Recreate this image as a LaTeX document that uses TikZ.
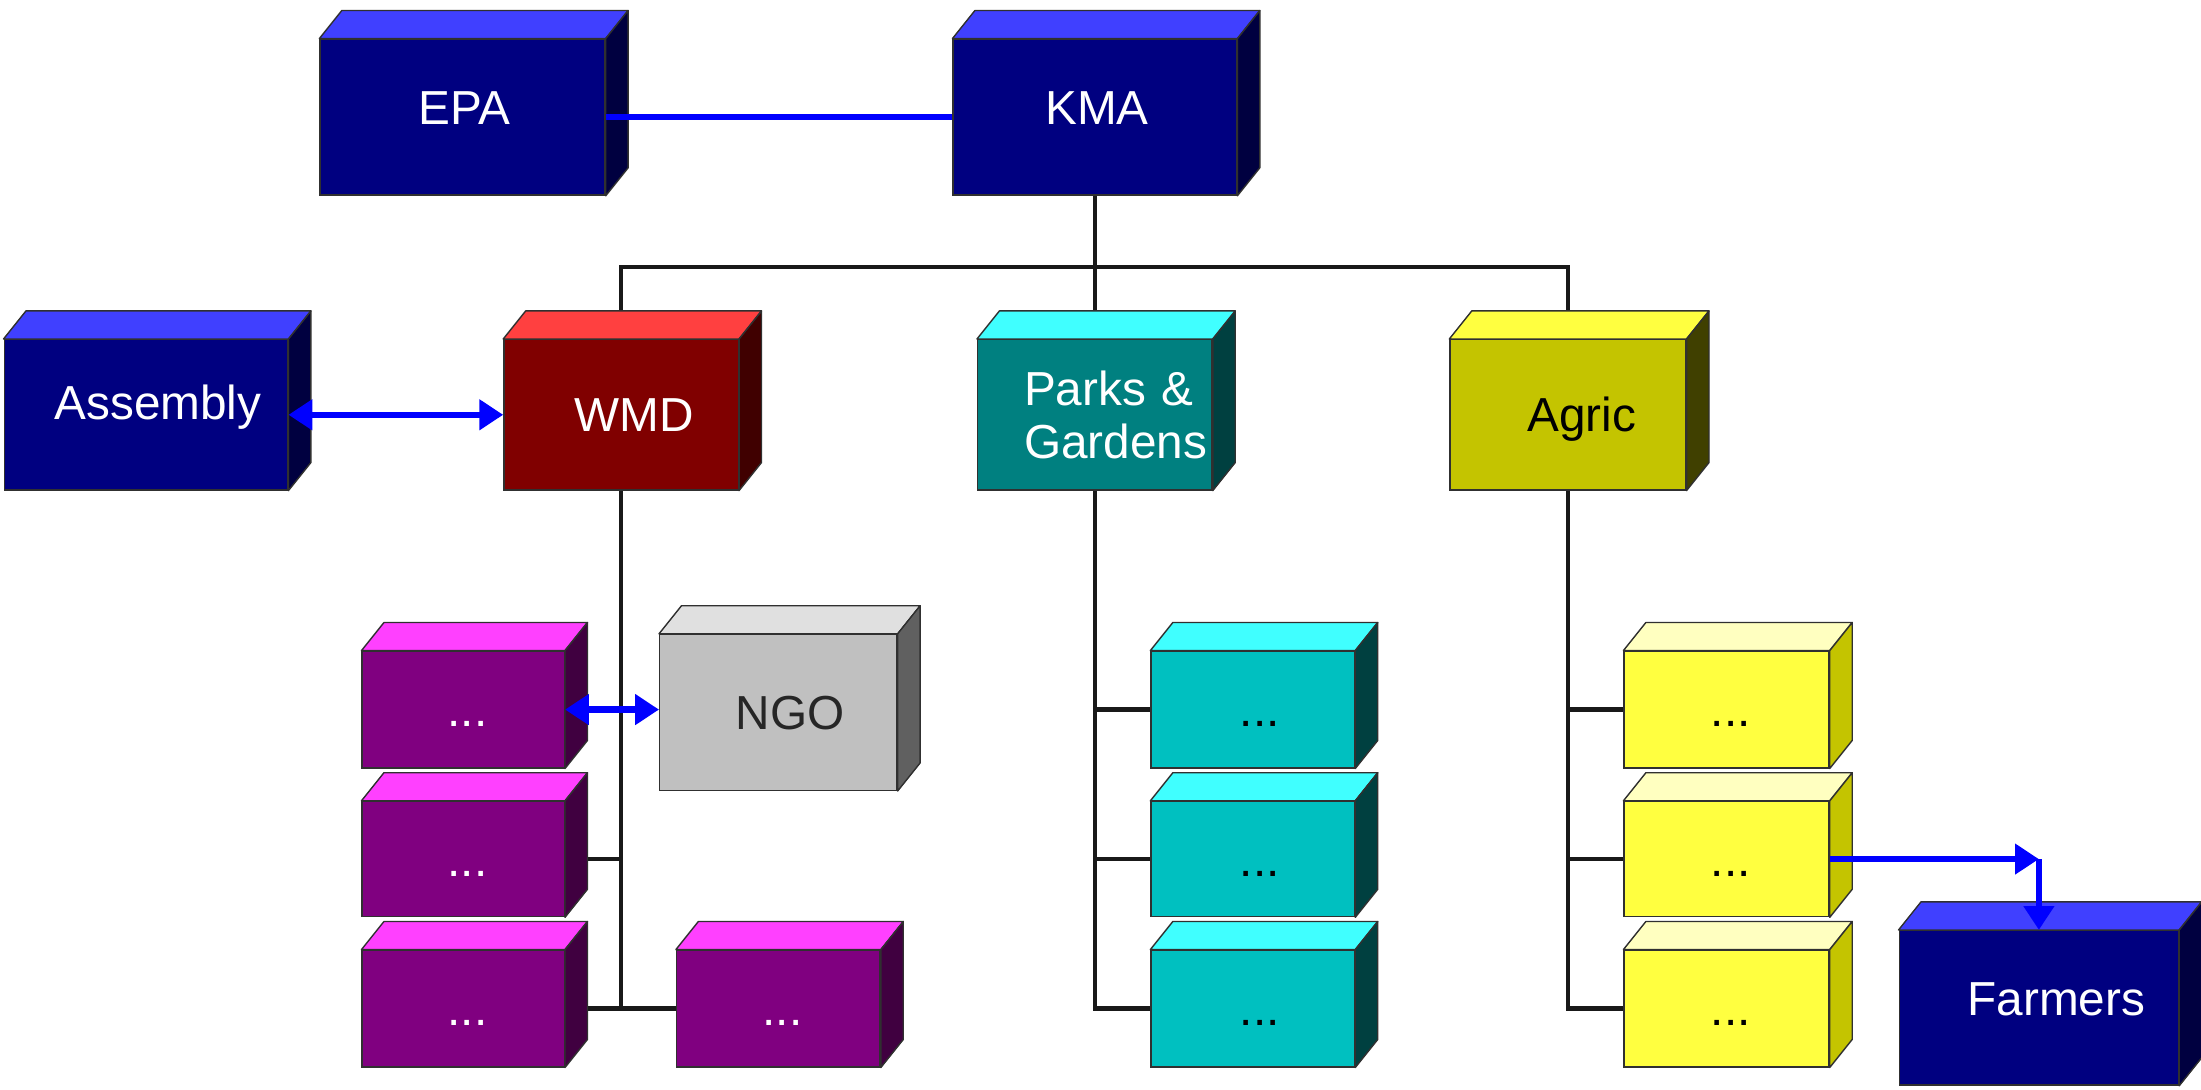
\documentclass[tikz,border=0pt]{standalone}
\usepackage{fontspec}
\setmainfont{Liberation Sans}
\usetikzlibrary{arrows.meta,calc}
\pgfdeclarelayer{bg}
\pgfsetlayers{bg,main}
\definecolor{navyF}{HTML}{000080}\definecolor{navyT}{HTML}{4040FF}\definecolor{navyS}{HTML}{000040}
\definecolor{redF}{HTML}{800000}\definecolor{redT}{HTML}{FF4040}\definecolor{redS}{HTML}{400000}
\definecolor{tealF}{HTML}{008080}\definecolor{tealT}{HTML}{40FFFF}\definecolor{tealS}{HTML}{004040}
\definecolor{oliveF}{HTML}{C4C400}\definecolor{oliveT}{HTML}{FFFF40}\definecolor{oliveS}{HTML}{404000}
\definecolor{magF}{HTML}{800080}\definecolor{magT}{HTML}{FF40FF}\definecolor{magS}{HTML}{400040}
\definecolor{cyanF}{HTML}{00C0C0}\definecolor{cyanT}{HTML}{40FFFF}\definecolor{cyanS}{HTML}{004040}
\definecolor{yelF}{HTML}{FFFF40}\definecolor{yelT}{HTML}{FFFFC0}\definecolor{yelS}{HTML}{C4C400}
\definecolor{grayF}{HTML}{C0C0C0}\definecolor{grayT}{HTML}{E0E0E0}\definecolor{grayS}{HTML}{606060}
\definecolor{edge}{HTML}{303030}
\tikzset{
  frontface/.style={draw=edge, line width=1pt, inner sep=0pt, font=\fontsize{34}{38}\selectfont},
  oneline/.style={text height=#1, text depth=0pt},
  conn/.style={line width=3pt, draw=black!90},
  blueline/.style={line width=4.5pt, draw=blue},
  barr/.style={blueline, -{Triangle[length=17pt,width=21pt]}},
  bdarr/.style={blueline, {Triangle[length=17pt,width=21pt]}-{Triangle[length=17pt,width=21pt]}},
}
% #1 name #2 x #3 y #4 w #5 h #6 colour set #7 text colour #8 text #9 extra style
\newcommand\cubebox[9]{%
  \node[frontface, fill=#6F, text=#7, minimum width=#4pt, minimum height=#5pt, #9] (#1) at (#2,#3) {#8};
  \filldraw[fill=#6T, draw=edge, line width=1pt, line join=round]
    (#1.north west) -- ++(16,-20) -- ($(#1.north east)+(16,-20)$) -- (#1.north east) -- cycle;
  \filldraw[fill=#6S, draw=edge, line width=1pt, line join=round]
    (#1.north east) -- ++(16,-20) -- ($(#1.south east)+(16,-20)$) -- (#1.south east) -- cycle;
}
\begin{document}
\begin{tikzpicture}[x=1pt,y=-1pt]
\useasboundingbox (0,0) rectangle (1568,776);
\begin{pgfonlayer}{bg}
\fill[white] (0,0) rectangle (1568,776);
\end{pgfonlayer}
% top level
\cubebox{EPA}{329.5}{83.5}{203}{111}{navy}{white}{\hspace*{3pt}EPA}{oneline=10.4pt}
\cubebox{KMA}{780}{83.5}{202}{111}{navy}{white}{\hspace*{3pt}KMA}{oneline=10.4pt}
% second level
\cubebox{Assembly}{104}{295.5}{202}{107}{navy}{white}{\hspace*{17pt}Assembly}{oneline=6.4pt}
\cubebox{WMD}{442.5}{295.5}{167}{107}{red}{white}{\hspace*{19pt}WMD}{oneline=24.4pt}
\cubebox{Parks}{780}{295.5}{167}{107}{teal}{white}{\mbox{Parks \&}\\\mbox{Gardens}}{align=left, text width=101pt}
\cubebox{Agric}{1117}{295.5}{168}{107}{olive}{black}{\hspace*{20pt}Agric}{oneline=24.4pt}
% WMD column
\cubebox{m1}{330}{505.5}{144}{83}{mag}{white}{\hspace*{6pt}...}{oneline=24.4pt}
\cubebox{m2}{330}{612}{144}{82}{mag}{white}{\hspace*{6pt}...}{oneline=24.4pt}
\cubebox{m3}{330}{718.5}{144}{83}{mag}{white}{\hspace*{6pt}...}{oneline=24.4pt}
\cubebox{m4}{554.5}{718.5}{145}{83}{mag}{white}{\hspace*{6pt}...}{oneline=24.4pt}
\cubebox{NGO}{554.5}{507.5}{169}{111}{gray}{black!85}{\hspace*{17pt}NGO}{oneline=24.4pt}
% Parks column
\cubebox{c1}{892.5}{505.5}{145}{83}{cyan}{black}{\hspace*{10pt}...}{oneline=24.4pt}
\cubebox{c2}{892.5}{612}{145}{82}{cyan}{black}{\hspace*{10pt}...}{oneline=24.4pt}
\cubebox{c3}{892.5}{718.5}{145}{83}{cyan}{black}{\hspace*{10pt}...}{oneline=24.4pt}
% Agric column
\cubebox{y1}{1230}{505.5}{146}{83}{yel}{black}{\hspace*{6pt}...}{oneline=24.4pt}
\cubebox{y2}{1230}{612}{146}{82}{yel}{black}{\hspace*{6pt}...}{oneline=24.4pt}
\cubebox{y3}{1230}{718.5}{146}{83}{yel}{black}{\hspace*{6pt}...}{oneline=24.4pt}
\cubebox{Farmers}{1452.5}{718}{199}{110}{navy}{white}{\hspace*{25pt}Farmers}{oneline=11.4pt}
% black tree connectors behind the boxes
\begin{pgfonlayer}{bg}
\coordinate (bus) at (780,190);
\draw[conn] (KMA.south) -- (Parks.north);
\draw[conn] (WMD.north) |- (bus) -| (Agric.north);
\draw[conn] (WMD.south) |- (m4.west);
\draw[conn] (m3.east) -- (m3.east -| WMD.south);
\draw[conn] (m2.east) -- (m2.east -| WMD.south);
\draw[conn] (Parks.south) |- (c3.west);
\draw[conn] (c1.west) -- (c1.west -| Parks.south);
\draw[conn] (c2.west) -- (c2.west -| Parks.south);
\draw[conn] (Agric.south) |- (y3.west);
\draw[conn] (y1.west) -- (y1.west -| Agric.south);
\draw[conn] (y2.west) -- (y2.west -| Agric.south);
\end{pgfonlayer}
% blue links
\draw[blueline] (EPA.east) -- (KMA.west);
\draw[bdarr] (Assembly.east) -- (WMD.west);
\draw[bdarr] (m1.east) -- (m1.east -| NGO.west);
\coordinate (fc) at (Farmers.north |- y2.east);
\draw[barr] (y2.east) -- (fc);
\draw[barr] (fc) -- (Farmers.north);
\end{tikzpicture}
\end{document}
